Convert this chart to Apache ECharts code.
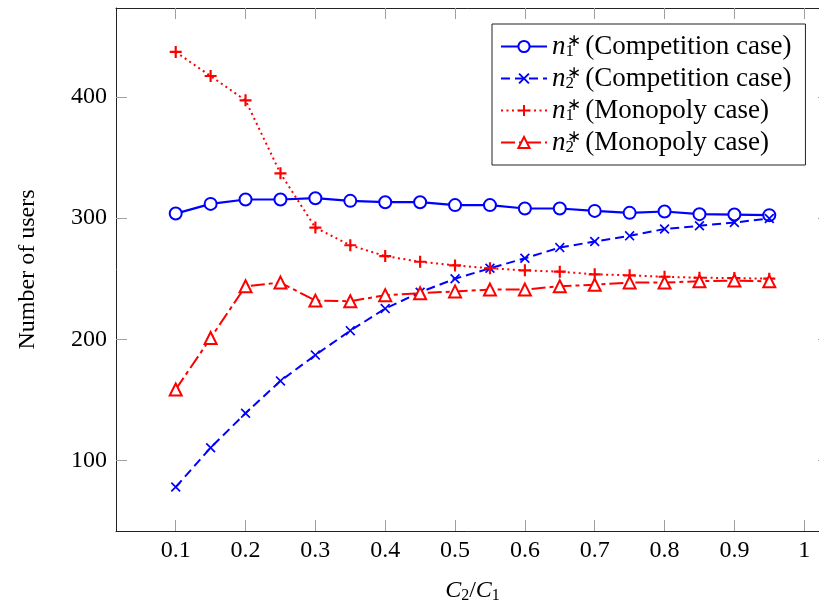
<!DOCTYPE html>
<html>
<head>
<meta charset="utf-8">
<script src="https://cdn.jsdelivr.net/npm/echarts@6/dist/echarts.min.js"></script>
<style>
html,body{margin:0;padding:0;background:#fff;}
#chart{width:819px;height:605px;}
</style>
</head>
<body>
<div id="chart"></div>
<script>
var xValues = [0.1, 0.15, 0.2, 0.25, 0.3, 0.35, 0.4, 0.45, 0.5, 0.55, 0.6, 0.65, 0.7, 0.75, 0.8, 0.85, 0.9, 0.95];
var n1Competition = [303.8, 311.8, 315.4, 315.4, 316.5, 314.3, 313.2, 313.2, 310.8, 310.8, 308, 308, 306, 304.4, 305.5, 303.3, 303, 302.5];
var n2Competition = [77.9, 110.4, 138.9, 165.6, 186.9, 207.1, 225.3, 238.8, 250, 258.6, 266.9, 275.7, 280.7, 285.4, 291, 293.7, 296.4, 299.7];
var n1Monopoly = [437.3, 417.4, 397.3, 337.0, 292.2, 277.6, 268.7, 264, 261, 258.6, 256.9, 255.8, 253.6, 252.8, 251.6, 250.8, 250.5, 250];
var n2Monopoly = [158.5, 201, 243.8, 246.8, 231.9, 231.4, 236.4, 238, 239.5, 241, 241, 243.8, 245, 246.8, 246.8, 247.9, 248.5, 247.8];
var xTicks = [0.1, 0.2, 0.3, 0.4, 0.5, 0.6, 0.7, 0.8, 0.9, 1];
var yTicks = [100, 200, 300, 400];
var seriesNames = ['n1c', 'n2c', 'n1m', 'n2m'];
var legendTexts = {
  n1c: ['1', '(Competition case)'],
  n2c: ['2', '(Competition case)'],
  n1m: ['1', '(Monopoly case)'],
  n2m: ['2', '(Monopoly case)']
};

function pairs(ys) { return xValues.map(function (x, i) { return [x, ys[i]]; }); }

var FONT = 'Liberation Serif';
var BLUE = '#0000ff', RED = '#ff0000';
var XMARK = 'path://M0,1.2L1.2,0L5,3.8L8.8,0L10,1.2L6.2,5L10,8.8L8.8,10L5,6.2L1.2,10L0,8.8L3.8,5Z';
var PLUS = 'path://M4.1,0H5.9V4.1H10V5.9H5.9V10H4.1V5.9H0V4.1H4.1Z';

var chart = echarts.init(document.getElementById('chart'), null, {renderer: 'canvas'});

var xMin = 0.0145, xMax = 1.0355, yMin = 41.6, yMax = 473.6;
var tickStyle = {show: true, inside: true, length: 11, lineStyle: {color: '#a0a0a0', width: 1}};
var lineAxis = {show: true, onZero: false, lineStyle: {color: '#222', width: 1}};

var richName = {
  n: {fontFamily: FONT, fontStyle: 'italic', fontSize: 27, lineHeight: 24, color: '#000'},
  sub: {fontFamily: FONT, fontSize: 17, lineHeight: 14, color: '#000', padding: [10, 0, 0, 0], width: 1},
  sup: {fontFamily: FONT, fontSize: 17, lineHeight: 14, color: '#000', padding: [0, 0, 10, 0], width: 12},
  t: {fontFamily: FONT, fontSize: 27, lineHeight: 24, color: '#000'}
};

var option = {
  backgroundColor: '#fff',
  animation: false,
  grid: {left: 116, width: 713, top: 8, height: 523, containLabel: false, outerBoundsMode: 'none'},
  legend: {
    orient: 'vertical',
    left: 492, top: 24,
    padding: [9, 14, 9, 8],
    itemWidth: 46, itemHeight: 14, itemGap: 5,
    borderColor: '#222', borderWidth: 1, borderRadius: 0,
    backgroundColor: '#fff',
    data: seriesNames,
    formatter: function (name) {
      var t = legendTexts[name];
      return '{n|n}{sub|' + t[0] + '}{sup|∗}{t|\u00a0' + t[1] + '}';
    },
    textStyle: {rich: richName, lineHeight: 24}
  },
  xAxis: [{
    type: 'value', min: xMin, max: xMax, position: 'bottom',
    axisLine: lineAxis,
    axisTick: Object.assign({customValues: xTicks}, tickStyle),
    axisLabel: {customValues: xTicks, fontFamily: FONT, fontSize: 24, color: '#000', margin: 8,
      formatter: function (v) { return String(Math.round(v * 10) / 10); }},
    splitLine: {show: false},
    name: '{c|C}{s|2}{t|/}{c|C}{s|1}',
    nameLocation: 'middle', nameGap: 47,
    nameTextStyle: {rich: {
      c: {fontFamily: FONT, fontStyle: 'italic', fontSize: 24, color: '#000'},
      s: {fontFamily: FONT, fontSize: 16, color: '#000', padding: [10, 0, 0, 0]},
      t: {fontFamily: FONT, fontSize: 24, color: '#000'}
    }}
  }, {
    type: 'value', min: xMin, max: xMax, position: 'top',
    axisLine: lineAxis,
    axisTick: Object.assign({customValues: xTicks}, tickStyle),
    axisLabel: {show: false},
    splitLine: {show: false}
  }],
  yAxis: [{
    type: 'value', min: yMin, max: yMax, position: 'left',
    axisLine: lineAxis,
    axisTick: Object.assign({customValues: yTicks}, tickStyle),
    axisLabel: {customValues: yTicks, fontFamily: FONT, fontSize: 24, color: '#000', margin: 9},
    splitLine: {show: false},
    name: 'Number of users',
    nameLocation: 'middle', nameGap: 76,
    nameTextStyle: {fontFamily: FONT, fontSize: 24, color: '#000'}
  }, {
    type: 'value', min: yMin, max: yMax, position: 'right',
    axisLine: lineAxis,
    axisTick: Object.assign({customValues: yTicks}, tickStyle),
    axisLabel: {show: false},
    splitLine: {show: false}
  }],
  series: [{
    name: 'n1c', type: 'line', data: pairs(n1Competition),
    symbol: 'emptyCircle', symbolSize: 12,
    lineStyle: {color: BLUE, width: 2.2, type: 'solid'},
    itemStyle: {color: BLUE, borderColor: BLUE, borderWidth: 2}
  }, {
    name: 'n2c', type: 'line', data: pairs(n2Competition),
    symbol: XMARK, symbolSize: 10,
    lineStyle: {color: BLUE, width: 2, type: [9, 5]},
    itemStyle: {color: BLUE}
  }, {
    name: 'n1m', type: 'line', data: pairs(n1Monopoly),
    symbol: PLUS, symbolSize: 12,
    lineStyle: {color: RED, width: 2, type: [2, 3.5]},
    itemStyle: {color: RED}
  }, {
    name: 'n2m', type: 'line', data: pairs(n2Monopoly),
    symbol: 'emptyTriangle', symbolSize: 12,
    lineStyle: {color: RED, width: 2, type: [14, 4, 4, 4]},
    itemStyle: {color: RED, borderColor: RED, borderWidth: 2}
  }]
};
chart.setOption(option);
</script>
</body>
</html>
